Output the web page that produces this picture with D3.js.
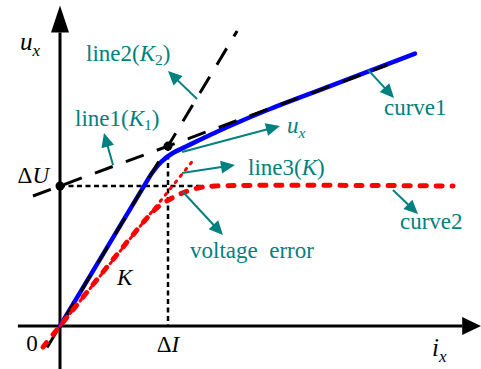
<!DOCTYPE html>
<html>
<head>
<meta charset="utf-8">
<script src="https://cdn.jsdelivr.net/npm/d3@7"></script>
<style>
  html, body { margin: 0; padding: 0; background: #fff; }
  svg { display: block; }
  text { font-family: "Liberation Serif", "Times New Roman", serif; }
</style>
</head>
<body>
<svg id="chart" width="481" height="369"></svg>
<script>
// Normalised units: ΔI = 1 on the current axis, ΔU = 1 on the voltage axis.
const xExtent = [-0.39, 3.9];
const yExtent = [-0.31, 2.29];

// Marked positions on the axes
const tickValuesX = [1];
const tickLabelsX = ["ΔI"];
const tickValuesY = [1];
const tickLabelsY = ["ΔU"];

// curve1: measured voltage u_x against current i_x
const curve1X = [0, 0.37, 0.769, 0.852, 0.935, 1.037, 1.167, 1.296, 1.454, 1.667, 1.944, 2.5, 3.287];
const curve1Y = [0, 0.476, 0.988, 1.093, 1.171, 1.232, 1.282, 1.33, 1.388, 1.461, 1.55, 1.714, 1.946];

// curve2: voltage that saturates at ΔU
const curve2X = [-0.157, 0, 0.815, 0.907, 1.037, 1.157, 1.296, 1.435, 3.639];
const curve2Y = [-0.15, 0, 0.779, 0.85, 0.914, 0.957, 0.989, 1.0, 1.0];

// Straight lines y = intercept + slope * x over [x0, x1]
const line1Range = [-0.25, 3.03];
const line1Intercept = 1;
const line1Slope = 0.285;      // K1
const line2Range = [-0.12, 1.64];
const line2Intercept = 0;
const line2Slope = 1.285;      // K2
const line3Range = [0, 1.23];
const line3Intercept = 0;
const line3Slope = 0.96;       // K

const x = d3.scaleLinear().domain([0, 1]).range([60, 168]);
const y = d3.scaleLinear().domain([0, 1]).range([326, 186]);

const svg = d3.select("#chart");
const TEAL = "#008080";
const FS = 23;

const lineGen = d3.line().x(d => x(d[0])).y(d => y(d[1]));
const smoothGen = d3.line().x(d => x(d[0])).y(d => y(d[1])).curve(d3.curveCatmullRom.alpha(0.5));

function straight(range, b, k) {
  return range.map(v => [v, b + k * v]);
}

// ---- axes with arrow heads ----
const ax = svg.append("g");
const x0 = x(0), y0 = y(0);
ax.append("line").attr("x1", x0).attr("x2", x0)
  .attr("y1", y(yExtent[0])).attr("y2", y(yExtent[1]) + 27)
  .attr("stroke", "#000").attr("stroke-width", 3);
ax.append("path")
  .attr("d", `M${x0},${y(yExtent[1])} L${x0 - 9},${y(yExtent[1]) + 27} L${x0 + 9},${y(yExtent[1]) + 27} Z`)
  .attr("fill", "#000");
ax.append("line").attr("y1", y0).attr("y2", y0)
  .attr("x1", x(xExtent[0])).attr("x2", x(xExtent[1]) - 19)
  .attr("stroke", "#000").attr("stroke-width", 3);
ax.append("path")
  .attr("d", `M${x(xExtent[1])},${y0} L${x(xExtent[1]) - 19},${y0 - 9} L${x(xExtent[1]) - 19},${y0 + 9} Z`)
  .attr("fill", "#000");

// ---- guide lines to ΔU and ΔI ----
const kneeX = (line1Intercept - line2Intercept) / (line2Slope - line1Slope);
const kneeY = line2Intercept + line2Slope * kneeX;
svg.append("path")
  .attr("d", lineGen([[0, tickValuesY[0]], [1.32, tickValuesY[0]]]))
  .attr("stroke", "#000").attr("stroke-width", 2.5).attr("stroke-dasharray", "5,3.5").attr("fill", "none");
svg.append("path")
  .attr("d", lineGen([[tickValuesX[0], kneeY], [tickValuesX[0], 0]]))
  .attr("stroke", "#000").attr("stroke-width", 2.5).attr("stroke-dasharray", "5,3.5").attr("fill", "none");

// ---- curve1 (blue) ----
svg.append("path")
  .attr("d", smoothGen(d3.zip(curve1X, curve1Y)))
  .attr("stroke", "#0000ff").attr("stroke-width", 4.5).attr("stroke-linecap", "round").attr("fill", "none");

// ---- line1 and line2 (black dashed) ----
[[line1Range, line1Intercept, line1Slope], [line2Range, line2Intercept, line2Slope]].forEach(([r, b, k]) => {
  svg.append("path")
    .attr("d", lineGen(straight(r, b, k)))
    .attr("stroke", "#000").attr("stroke-width", 3).attr("stroke-dasharray", "19,14").attr("fill", "none");
});

// ---- curve2 (red dashed) ----
svg.append("path")
  .attr("d", smoothGen(d3.zip(curve2X, curve2Y)))
  .attr("stroke", "#ff0000").attr("stroke-width", 5).attr("stroke-linecap", "round")
  .attr("stroke-dasharray", "6,10").attr("fill", "none");

// ---- line3 (red dotted) ----
svg.append("path")
  .attr("d", lineGen(straight(line3Range, line3Intercept, line3Slope)))
  .attr("stroke", "#ff0000").attr("stroke-width", 3).attr("stroke-linecap", "round")
  .attr("stroke-dasharray", "2,6").attr("fill", "none");

// ---- points ----
svg.append("circle").attr("cx", x(0)).attr("cy", y(tickValuesY[0])).attr("r", 4.5).attr("fill", "#000");
svg.append("circle").attr("cx", x(kneeX)).attr("cy", y(kneeY)).attr("r", 4.5).attr("fill", "#000");

// ---- annotation arrows (teal) ----
const arrows = [
  [[1.269, 1.621], [1.0, 1.821]],     // line2
  [[0.491, 1.15], [0.407, 1.379]],    // line1
  [[2.852, 1.829], [3.093, 1.629]],   // curve1
  [[1.13, 1.243], [2.037, 1.429]],    // u_x
  [[1.13, 1.093], [1.62, 1.15]],      // line3
  [[1.139, 0.957], [1.509, 0.65]],    // voltage error
  [[3.083, 0.971], [3.315, 0.8]]      // curve2
];
const ag = svg.append("g");
arrows.forEach(([a, b]) => {
  const x1 = x(a[0]), y1 = y(a[1]), x2 = x(b[0]), y2 = y(b[1]);
  const len = Math.hypot(x2 - x1, y2 - y1);
  const ux = (x2 - x1) / len, uy = (y2 - y1) / len;
  const L = 14, Wd = 6.5;
  const bx = x2 - ux * L, by = y2 - uy * L;
  ag.append("line").attr("x1", x1).attr("y1", y1).attr("x2", bx + ux * 2).attr("y2", by + uy * 2)
    .attr("stroke", TEAL).attr("stroke-width", 2);
  ag.append("path")
    .attr("d", `M${x2},${y2} L${bx - uy * Wd},${by + ux * Wd} L${bx + uy * Wd},${by - ux * Wd} Z`)
    .attr("fill", TEAL);
});

// ---- text ----
function richText(px, py, parts, fill, size) {
  const t = svg.append("text").attr("x", px).attr("y", py)
    .attr("fill", fill).attr("font-size", size).style("white-space", "pre");
  let shift = 0;
  parts.forEach(p => {
    const s = t.append("tspan").text(p.t);
    if (p.i) s.attr("font-style", "italic");
    const want = p.sub ? p.sub : 0;
    if (want !== shift) { s.attr("dy", want - shift); shift = want; }
    if (p.sub) s.attr("font-size", size * 0.68);
  });
  return t;
}

const labels = [
  { at: [0.241, 1.893], parts: [{ t: "line2(" }, { t: "K", i: true }, { t: "2", sub: 4 }, { t: ")" }] },
  { at: [0.139, 1.429], parts: [{ t: "line1(" }, { t: "K", i: true }, { t: "1", sub: 4 }, { t: ")" }] },
  { at: [3.0, 1.507], parts: [{ t: "curve1" }] },
  { at: [2.102, 1.379], parts: [{ t: "u", i: true }, { t: "x", i: true, sub: 5 }] },
  { at: [1.741, 1.079], parts: [{ t: "line3(" }, { t: "K", i: true }, { t: ")" }] },
  { at: [3.148, 0.693], parts: [{ t: "curve2" }] },
  { at: [1.204, 0.486], parts: [{ t: "voltage  error" }] }
];
labels.forEach(l => richText(x(l.at[0]), y(l.at[1]), l.parts, TEAL, FS));

// curve/axis letters in black
richText(x(0.528), y(0.293), [{ t: "K", i: true }], "#000", FS);
richText(x(-0.37), y(1.971), [{ t: "u", i: true }, { t: "x", i: true, sub: 6 }], "#000", 25);
richText(x(3.444), y(-0.214), [{ t: "i", i: true }, { t: "x", i: true, sub: 6 }], "#000", 25);

// axis marks
svg.append("text").attr("x", x(0) - 11).attr("y", y(tickValuesY[0]) - 3)
  .attr("text-anchor", "end").attr("font-size", FS).attr("fill", "#000")
  .call(t => { t.append("tspan").text(tickLabelsY[0][0]); t.append("tspan").attr("font-style", "italic").text(tickLabelsY[0].slice(1)); });
svg.append("text").attr("x", x(tickValuesX[0])).attr("y", y(0) + 26)
  .attr("text-anchor", "middle").attr("font-size", FS).attr("fill", "#000")
  .call(t => { t.append("tspan").text(tickLabelsX[0][0]); t.append("tspan").attr("font-style", "italic").text(tickLabelsX[0].slice(1)); });
svg.append("text").attr("x", x(0) - 28).attr("y", y(0) + 25)
  .attr("text-anchor", "middle").attr("font-size", FS).attr("fill", "#000").text("0");
</script>
</body>
</html>
